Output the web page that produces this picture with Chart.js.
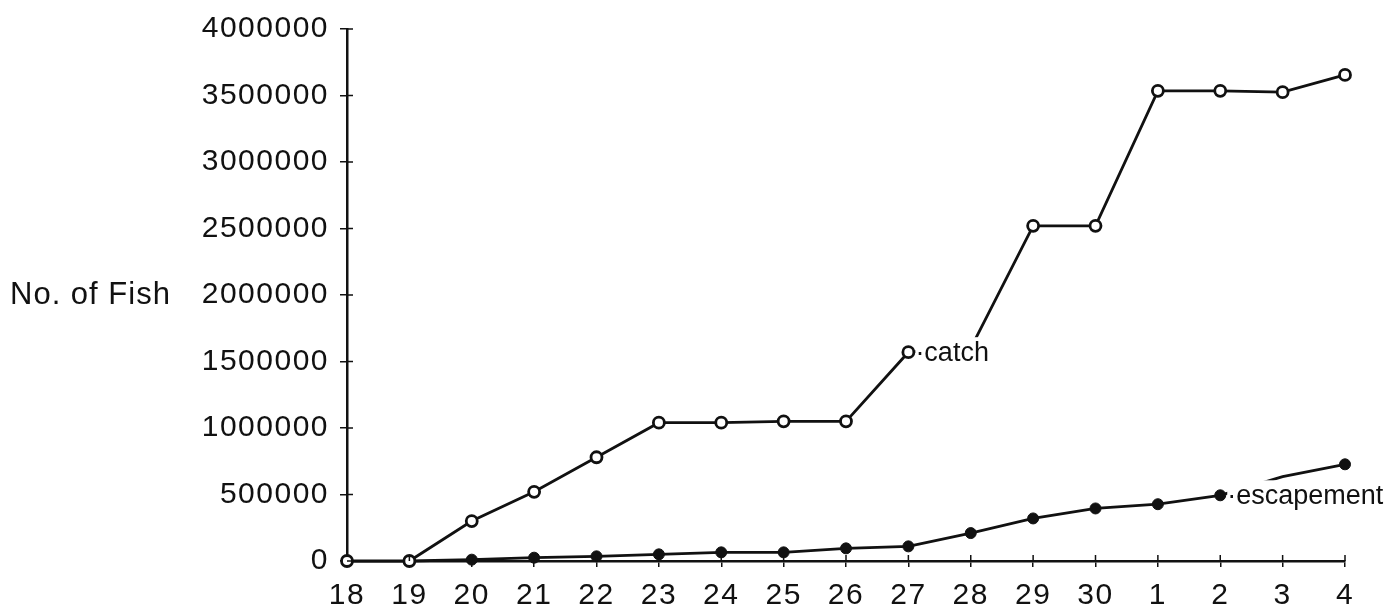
<!DOCTYPE html>
<html>
<head>
<meta charset="utf-8">
<title>No. of Fish</title>
<script src="https://cdn.jsdelivr.net/npm/chart.js@4.4.1/dist/chart.umd.min.js"></script>
<style>
  html, body { margin: 0; padding: 0; background: #fff; }
  #wrap { width: 1394px; height: 611px; }
</style>
</head>
<body>
<div id="wrap"><canvas id="fish" width="1394" height="611"></canvas></div>
<script>
// days: 18..30 of one month, then 1..4 of the next
var days = ['18','19','20','21','22','23','24','25','26','27','28','29','30','1','2','3','4'];
var catchFish = [0, 0, 300000, 520000, 780000, 1040000, 1040000, 1050000, 1050000,
                 1570000, 1600000, 2520000, 2520000, 3535000, 3535000, 3525000, 3655000];
var escapement = [null, 0, 10000, 25000, 35000, 50000, 65000, 65000, 95000,
                  110000, 210000, 320000, 395000, 427000, 494000, 635000, 727000];
var yTicks = [0, 500000, 1000000, 1500000, 2000000, 2500000, 3000000, 3500000, 4000000];

var FONT = 'Liberation Sans, Arial, Helvetica, sans-serif';
var INK = '#111';

// escapement point on day 3 is hidden under its label in the original
var escRadius = escapement.map(function (v, i) { return days[i] === '3' ? 0 : 5.5; });

// the scanned lettering is spaced out a little
var spacing = {
  id: 'spacing',
  beforeDraw: function (chart) { chart.ctx.letterSpacing = '1.5px'; }
};

// draws the inner half of the tick marks, the labels beside the lines and the y title
var extras = {
  id: 'extras',
  afterDatasetsDraw: function (chart) {
    var ctx = chart.ctx, a = chart.chartArea;
    var xs = chart.scales.x, ys = chart.scales.y;
    ctx.save();
    ctx.strokeStyle = INK;
    ctx.lineWidth = 1.5;
    ctx.beginPath();
    yTicks.forEach(function (v) {
      var y = ys.getPixelForValue(v);
      ctx.moveTo(a.left, y); ctx.lineTo(a.left + 6, y);
    });
    for (var i = 1; i < days.length; i++) {
      var x = xs.getPixelForValue(i);
      ctx.moveTo(x, a.bottom); ctx.lineTo(x, a.bottom - 6);
    }
    ctx.stroke();

    ctx.font = '27px ' + FONT;
    ctx.letterSpacing = '0px';
    ctx.textBaseline = 'middle';
    function tag(dsIndex, idx, text, dx) {
      var p = chart.getDatasetMeta(dsIndex).data[idx];
      var w = ctx.measureText(text).width;
      ctx.fillStyle = '#fff';
      ctx.fillRect(p.x + dx, p.y - 15, w + 4, 30);
      ctx.fillStyle = INK;
      ctx.fillText(text, p.x + dx, p.y + 1);
    }
    tag(0, 9, '\u00B7catch', 7);
    tag(1, 14, '\u00B7escapement', 7);

    ctx.font = '31px ' + FONT;
    ctx.letterSpacing = '1px';
    ctx.fillStyle = INK;
    ctx.textAlign = 'left';
    ctx.fillText('No. of Fish', 10, ys.getPixelForValue(2000000));
    ctx.restore();
  }
};

new Chart(document.getElementById('fish'), {
  type: 'line',
  data: {
    labels: days,
    datasets: [{
      label: 'catch',
      data: catchFish,
      order: 0,
      clip: false,
      borderColor: INK,
      borderWidth: 2.8,
      pointRadius: 5.5,
      pointBorderWidth: 2.8,
      pointBorderColor: INK,
      pointBackgroundColor: '#fff',
      tension: 0,
      fill: false
    }, {
      label: 'escapement',
      data: escapement,
      order: 1,
      clip: false,
      borderColor: INK,
      borderWidth: 2.8,
      pointRadius: escRadius,
      pointBorderWidth: 1,
      pointBorderColor: INK,
      pointBackgroundColor: INK,
      tension: 0,
      fill: false
    }]
  },
  options: {
    responsive: false,
    animation: false,
    layout: { padding: { top: 27, right: 49, bottom: 0, left: 0 } },
    plugins: { legend: { display: false }, tooltip: { enabled: false } },
    scales: {
      x: {
        type: 'category',
        offset: false,
        grid: { drawOnChartArea: false, drawTicks: true, tickLength: 6, color: INK, lineWidth: 1.5 },
        border: { display: true, color: INK, width: 2.5 },
        ticks: { color: INK, font: { family: FONT, size: 30 }, padding: 11, maxRotation: 0, autoSkip: false },
        afterFit: function (s) { s.height = 50; }
      },
      y: {
        min: 0,
        max: 4000000,
        afterBuildTicks: function (s) { s.ticks = yTicks.map(function (v) { return { value: v }; }); },
        grid: { drawOnChartArea: false, drawTicks: true, tickLength: 7, color: INK, lineWidth: 1.5 },
        border: { display: true, color: INK, width: 2.5 },
        ticks: { color: INK, font: { family: FONT, size: 30 }, padding: 11,
                 callback: function (v) { return String(v); } },
        afterFit: function (s) { s.width = 347; }
      }
    }
  },
  plugins: [spacing, extras]
});
</script>
</body>
</html>
